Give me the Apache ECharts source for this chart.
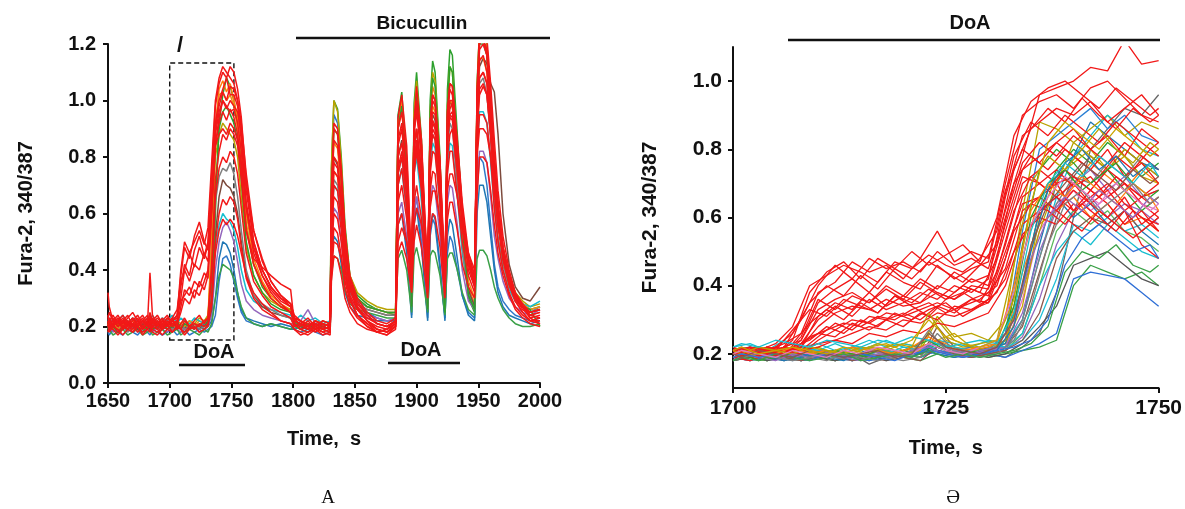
<!DOCTYPE html>
<html>
<head>
<meta charset="utf-8">
<script src="https://cdn.jsdelivr.net/npm/echarts@6/dist/echarts.min.js"></script>
<style>
  html, body { margin: 0; background: #fff; }
  #main { width: 1185px; height: 509px; }
</style>
</head>
<body>
<div id="main"></div>
<script>
var myChart = echarts.init(document.getElementById('main'));

// ---- panel A: time points (s)
var tA = [1650,1651,1654,1658,1662,1666,1670,1674,1678,1682,
  1684,1686,1690,1694,1698,1702,1706,1709,1712,1716,
  1720,1724,1728,1731,1734,1737,1740,1743,1746,1749,
  1752,1755,1758,1762,1768,1775,1782,1790,1798,1801,
  1806,1812,1818,1824,1830,1831,1833,1836,1839,1842,
  1846,1852,1860,1868,1876,1883,1885,1888,1892,1896,
  1898,1900,1904,1909,1911,1913,1915,1919,1923,1925,
  1927,1929,1933,1937,1942,1947,1949,1951,1954,1957,
  1960,1963,1966,1970,1975,1980,1986,1992,2000];

// panel A traces (340/387 ratio)
var aGreen1 = [0.21,0.20,0.19,0.21,0.20,0.22,0.19,0.21,0.20,0.19,
  0.21,0.20,0.22,0.19,0.21,0.20,0.19,0.21,0.20,0.22,
  0.21,0.20,0.22,0.21,0.26,0.60,0.92,1.02,1.08,1.05,
  1.00,0.92,0.78,0.56,0.42,0.34,0.30,0.27,0.26,0.22,
  0.21,0.20,0.22,0.21,0.20,0.76,1.00,0.97,0.80,0.56,
  0.38,0.31,0.28,0.26,0.25,0.24,0.95,1.03,0.78,0.28,
  0.99,1.10,0.86,0.25,1.00,1.14,1.10,0.80,0.24,1.04,
  1.18,1.16,0.88,0.60,0.30,0.25,1.06,1.25,1.25,1.20,
  1.00,0.76,0.62,0.46,0.36,0.30,0.28,0.26,0.27];
var aBlue1 = [0.18,0.17,0.19,0.18,0.17,0.19,0.18,0.17,0.19,0.18,
  0.17,0.19,0.18,0.17,0.18,0.19,0.17,0.18,0.19,0.17,
  0.18,0.19,0.18,0.19,0.20,0.24,0.36,0.44,0.45,0.42,
  0.36,0.30,0.25,0.22,0.21,0.20,0.21,0.20,0.19,0.19,
  0.18,0.19,0.18,0.17,0.18,0.70,0.95,0.92,0.74,0.50,
  0.34,0.28,0.25,0.23,0.22,0.22,0.94,1.00,0.70,0.24,
  0.60,0.66,0.50,0.23,0.52,0.58,0.56,0.40,0.23,0.46,
  0.52,0.50,0.40,0.31,0.25,0.23,0.68,0.80,0.78,0.70,
  0.56,0.42,0.34,0.29,0.26,0.24,0.23,0.22,0.23];
var aBlue2 = [0.20,0.19,0.21,0.20,0.19,0.20,0.21,0.19,0.20,0.21,
  0.19,0.20,0.21,0.19,0.20,0.21,0.19,0.20,0.21,0.19,
  0.20,0.19,0.21,0.20,0.22,0.30,0.44,0.50,0.49,0.46,
  0.40,0.32,0.26,0.23,0.22,0.21,0.20,0.21,0.20,0.19,
  0.20,0.19,0.21,0.20,0.19,0.42,0.52,0.50,0.42,0.32,
  0.27,0.24,0.23,0.22,0.22,0.22,0.56,0.60,0.46,0.23,
  0.56,0.62,0.48,0.22,0.54,0.60,0.58,0.42,0.22,0.52,
  0.58,0.56,0.44,0.31,0.24,0.22,0.60,0.70,0.70,0.64,
  0.52,0.40,0.32,0.27,0.24,0.23,0.22,0.21,0.22];
var aOrange1 = [0.20,0.21,0.19,0.20,0.22,0.20,0.19,0.21,0.20,0.22,
  0.20,0.19,0.21,0.20,0.22,0.19,0.21,0.20,0.19,0.21,
  0.20,0.22,0.21,0.22,0.48,0.90,1.04,1.07,1.03,1.06,
  1.00,0.94,0.82,0.60,0.44,0.36,0.31,0.28,0.26,0.21,
  0.20,0.21,0.19,0.20,0.21,0.58,0.75,0.73,0.60,0.44,
  0.34,0.29,0.27,0.26,0.25,0.25,0.90,0.97,0.74,0.30,
  0.90,1.00,0.80,0.28,0.92,1.05,1.02,0.74,0.27,0.90,
  1.00,0.98,0.76,0.52,0.34,0.28,1.02,1.22,1.22,1.16,
  0.98,0.76,0.60,0.46,0.36,0.30,0.27,0.25,0.26];
var aOrange2 = [0.21,0.20,0.22,0.19,0.21,0.20,0.22,0.21,0.19,0.21,
  0.20,0.22,0.21,0.19,0.21,0.20,0.22,0.21,0.20,0.22,
  0.21,0.20,0.22,0.23,0.52,0.92,1.02,1.03,1.00,1.02,
  0.98,0.90,0.76,0.56,0.42,0.35,0.30,0.27,0.25,0.22,
  0.21,0.20,0.22,0.21,0.20,0.64,0.85,0.83,0.68,0.48,
  0.35,0.30,0.27,0.26,0.25,0.25,0.92,1.00,0.78,0.32,
  0.94,1.04,0.82,0.30,0.86,0.98,0.96,0.70,0.30,0.88,
  1.00,0.99,0.76,0.54,0.36,0.30,0.96,1.15,1.15,1.10,
  0.92,0.72,0.56,0.44,0.35,0.30,0.28,0.26,0.27];
var aOlive = [0.21,0.22,0.20,0.21,0.19,0.21,0.22,0.20,0.21,0.19,
  0.22,0.20,0.21,0.22,0.20,0.21,0.19,0.21,0.22,0.20,
  0.21,0.23,0.22,0.24,0.42,0.80,0.88,0.92,0.90,0.88,
  0.86,0.80,0.66,0.48,0.38,0.32,0.29,0.27,0.26,0.23,
  0.22,0.21,0.20,0.22,0.21,0.76,1.00,0.96,0.78,0.54,
  0.38,0.32,0.29,0.27,0.26,0.26,0.93,1.00,0.76,0.28,
  0.96,1.07,0.84,0.27,0.96,1.10,1.07,0.78,0.26,0.98,
  1.12,1.10,0.84,0.56,0.32,0.27,1.04,1.25,1.25,1.20,
  1.00,0.78,0.62,0.48,0.38,0.32,0.29,0.27,0.28];
var aCyan = [0.22,0.23,0.21,0.22,0.24,0.21,0.23,0.22,0.21,0.23,
  0.22,0.24,0.21,0.23,0.22,0.24,0.21,0.23,0.22,0.21,
  0.23,0.22,0.21,0.23,0.30,0.48,0.56,0.60,0.58,0.57,
  0.54,0.48,0.40,0.33,0.29,0.27,0.26,0.25,0.24,0.22,
  0.24,0.22,0.23,0.21,0.22,0.54,0.70,0.68,0.56,0.42,
  0.33,0.29,0.27,0.26,0.25,0.25,0.70,0.76,0.60,0.29,
  0.74,0.80,0.64,0.27,0.76,0.85,0.83,0.62,0.27,0.76,
  0.85,0.84,0.66,0.46,0.32,0.27,0.82,0.96,0.96,0.92,
  0.78,0.62,0.50,0.40,0.33,0.29,0.28,0.27,0.29];
var aPurple = [0.19,0.20,0.18,0.19,0.21,0.19,0.20,0.18,0.19,0.20,
  0.19,0.18,0.20,0.19,0.18,0.20,0.19,0.18,0.20,0.19,
  0.20,0.18,0.19,0.20,0.24,0.40,0.50,0.55,0.57,0.54,
  0.50,0.43,0.35,0.29,0.26,0.24,0.23,0.22,0.21,0.20,
  0.22,0.26,0.21,0.20,0.19,0.48,0.62,0.60,0.50,0.38,
  0.30,0.26,0.24,0.23,0.22,0.23,0.60,0.64,0.52,0.27,
  0.60,0.66,0.54,0.26,0.64,0.70,0.68,0.52,0.25,0.64,
  0.70,0.69,0.56,0.40,0.29,0.26,0.72,0.82,0.82,0.78,
  0.66,0.52,0.44,0.36,0.30,0.27,0.25,0.24,0.26];
var aGreen2 = [0.18,0.19,0.17,0.18,0.19,0.17,0.18,0.19,0.17,0.18,
  0.19,0.17,0.18,0.19,0.17,0.18,0.19,0.17,0.18,0.19,
  0.18,0.17,0.19,0.18,0.21,0.30,0.38,0.42,0.41,0.40,
  0.37,0.32,0.27,0.23,0.21,0.20,0.21,0.20,0.19,0.20,
  0.19,0.18,0.20,0.19,0.18,0.38,0.45,0.44,0.40,0.33,
  0.28,0.26,0.25,0.24,0.23,0.23,0.44,0.47,0.40,0.25,
  0.45,0.48,0.40,0.25,0.45,0.47,0.46,0.38,0.24,0.44,
  0.46,0.46,0.40,0.32,0.26,0.24,0.44,0.47,0.47,0.45,
  0.40,0.34,0.30,0.26,0.23,0.21,0.20,0.20,0.21];
var aGreen3 = [0.19,0.21,0.20,0.18,0.20,0.19,0.21,0.20,0.18,0.20,
  0.21,0.19,0.20,0.21,0.19,0.20,0.22,0.19,0.21,0.20,
  0.19,0.21,0.20,0.22,0.30,0.66,0.90,0.96,0.98,0.95,
  0.92,0.86,0.72,0.50,0.38,0.32,0.28,0.26,0.25,0.22,
  0.20,0.21,0.19,0.20,0.21,0.68,0.90,0.88,0.72,0.50,
  0.35,0.30,0.27,0.26,0.25,0.25,0.90,0.98,0.74,0.27,
  0.92,1.02,0.80,0.26,0.96,1.08,1.05,0.76,0.25,0.98,
  1.12,1.10,0.84,0.56,0.31,0.26,1.00,1.20,1.20,1.16,
  0.94,0.72,0.58,0.44,0.35,0.30,0.27,0.26,0.20];
var aBrown = [0.20,0.19,0.21,0.20,0.19,0.21,0.20,0.19,0.21,0.20,
  0.19,0.21,0.20,0.19,0.21,0.20,0.19,0.21,0.20,0.19,
  0.21,0.20,0.19,0.21,0.26,0.52,0.66,0.72,0.70,0.69,
  0.66,0.60,0.50,0.38,0.31,0.27,0.25,0.24,0.23,0.21,
  0.20,0.19,0.21,0.20,0.19,0.60,0.80,0.77,0.62,0.44,
  0.32,0.28,0.26,0.25,0.24,0.24,0.80,0.86,0.66,0.28,
  0.82,0.90,0.70,0.27,0.86,0.95,0.93,0.66,0.27,0.90,
  1.00,0.98,0.76,0.52,0.33,0.27,0.96,1.12,1.15,1.13,
  1.06,1.03,0.88,0.60,0.42,0.34,0.30,0.29,0.34];
var aGray = [0.19,0.20,0.21,0.19,0.20,0.18,0.20,0.21,0.19,0.20,
  0.20,0.21,0.19,0.20,0.21,0.19,0.20,0.21,0.19,0.20,
  0.21,0.19,0.20,0.22,0.34,0.64,0.73,0.76,0.75,0.78,
  0.74,0.66,0.54,0.40,0.31,0.28,0.26,0.24,0.23,0.20,
  0.21,0.20,0.19,0.21,0.20,0.54,0.72,0.70,0.58,0.42,
  0.32,0.28,0.26,0.25,0.24,0.24,0.74,0.80,0.62,0.27,
  0.78,0.85,0.68,0.26,0.80,0.88,0.86,0.64,0.26,0.82,
  0.92,0.90,0.70,0.48,0.31,0.26,0.92,1.06,1.08,1.02,
  0.86,0.66,0.52,0.42,0.34,0.29,0.27,0.25,0.27];
var aRed1 = [0.24,0.22,0.21,0.23,0.20,0.22,0.21,0.23,0.20,0.22,
  0.24,0.21,0.22,0.20,0.23,0.21,0.22,0.34,0.42,0.38,
  0.47,0.52,0.45,0.50,0.74,0.98,1.06,1.10,1.08,1.12,
  1.10,1.04,0.94,0.72,0.50,0.40,0.34,0.30,0.27,0.22,
  0.21,0.19,0.22,0.20,0.21,0.66,0.86,0.84,0.72,0.52,
  0.38,0.30,0.25,0.22,0.21,0.23,0.94,1.02,0.84,0.40,
  0.92,1.05,0.86,0.36,0.92,1.02,1.00,0.78,0.36,0.94,
  1.04,1.02,0.84,0.62,0.42,0.34,1.02,1.20,1.22,1.18,
  1.02,0.80,0.64,0.48,0.38,0.31,0.27,0.25,0.26];
var aRed2 = [0.20,0.19,0.21,0.18,0.20,0.19,0.21,0.18,0.20,0.19,
  0.21,0.19,0.18,0.20,0.19,0.21,0.20,0.27,0.33,0.31,
  0.36,0.34,0.39,0.37,0.60,0.84,0.92,0.96,0.93,0.97,
  0.94,0.88,0.76,0.54,0.44,0.41,0.38,0.35,0.33,0.21,
  0.19,0.18,0.20,0.19,0.18,0.52,0.70,0.68,0.58,0.42,
  0.31,0.26,0.22,0.19,0.18,0.21,0.76,0.82,0.66,0.36,
  0.82,0.90,0.74,0.35,0.84,0.93,0.91,0.70,0.36,0.88,
  0.97,0.99,0.80,0.60,0.42,0.36,0.94,1.08,1.10,1.06,
  0.92,0.74,0.58,0.44,0.35,0.29,0.25,0.22,0.23];
var aRed3 = [0.22,0.21,0.20,0.22,0.19,0.21,0.20,0.22,0.19,0.21,
  0.20,0.22,0.19,0.21,0.20,0.22,0.23,0.38,0.48,0.44,
  0.52,0.57,0.50,0.47,0.68,0.90,0.98,1.03,1.00,1.05,
  1.04,1.00,0.90,0.68,0.50,0.40,0.34,0.30,0.28,0.24,
  0.22,0.20,0.21,0.19,0.20,0.45,0.60,0.58,0.50,0.38,
  0.30,0.24,0.21,0.18,0.19,0.22,0.64,0.70,0.58,0.38,
  0.74,0.82,0.68,0.37,0.80,0.88,0.86,0.66,0.36,0.86,
  0.95,0.96,0.78,0.58,0.42,0.36,0.98,1.14,1.16,1.10,
  0.94,0.74,0.58,0.45,0.36,0.30,0.27,0.23,0.24];
var aRed4 = [0.32,0.27,0.22,0.20,0.22,0.19,0.21,0.20,0.22,0.21,
  0.39,0.24,0.21,0.19,0.22,0.20,0.21,0.19,0.22,0.20,
  0.21,0.20,0.22,0.23,0.38,0.66,0.76,0.80,0.78,0.82,
  0.80,0.74,0.62,0.46,0.36,0.31,0.27,0.25,0.23,0.20,
  0.21,0.19,0.20,0.18,0.19,0.42,0.55,0.53,0.45,0.34,
  0.27,0.23,0.20,0.18,0.17,0.20,0.56,0.60,0.50,0.33,
  0.64,0.70,0.58,0.32,0.68,0.75,0.74,0.56,0.32,0.74,
  0.82,0.82,0.66,0.50,0.38,0.32,0.82,0.95,0.95,0.92,
  0.80,0.62,0.50,0.40,0.32,0.27,0.24,0.22,0.21];
var aRed5 = [0.19,0.18,0.20,0.19,0.17,0.19,0.18,0.20,0.18,0.19,
  0.18,0.20,0.19,0.17,0.19,0.18,0.20,0.19,0.18,0.20,
  0.19,0.21,0.20,0.21,0.30,0.50,0.60,0.65,0.63,0.66,
  0.64,0.58,0.48,0.37,0.30,0.26,0.24,0.22,0.21,0.19,
  0.18,0.17,0.19,0.18,0.17,0.66,0.90,0.88,0.74,0.52,
  0.36,0.27,0.22,0.19,0.18,0.20,0.90,0.96,0.80,0.40,
  0.92,1.00,0.84,0.38,0.92,1.00,0.98,0.78,0.38,0.96,
  1.06,1.05,0.86,0.64,0.46,0.38,1.04,1.25,1.25,1.22,
  1.06,0.86,0.68,0.52,0.40,0.32,0.27,0.23,0.21];
var aRed6 = [0.23,0.25,0.22,0.24,0.21,0.23,0.25,0.22,0.24,0.21,
  0.25,0.22,0.24,0.21,0.23,0.22,0.24,0.29,0.31,0.34,
  0.30,0.36,0.33,0.38,0.64,0.92,1.00,1.04,1.08,1.02,
  1.02,0.98,0.86,0.64,0.48,0.38,0.32,0.28,0.25,0.22,
  0.21,0.23,0.20,0.22,0.21,0.58,0.78,0.76,0.64,0.46,
  0.33,0.26,0.22,0.20,0.19,0.21,0.86,0.92,0.74,0.38,
  0.88,0.96,0.80,0.36,0.88,0.96,0.95,0.74,0.36,0.90,
  1.00,1.00,0.82,0.60,0.44,0.36,1.00,1.18,1.20,1.16,
  1.00,0.80,0.62,0.48,0.38,0.31,0.27,0.24,0.25];
var aRed7 = [0.21,0.19,0.23,0.20,0.22,0.24,0.20,0.22,0.19,0.21,
  0.23,0.20,0.22,0.19,0.21,0.23,0.19,0.21,0.23,0.20,
  0.22,0.24,0.21,0.23,0.42,0.72,0.82,0.88,0.86,0.90,
  0.88,0.84,0.72,0.54,0.42,0.35,0.30,0.27,0.25,0.21,
  0.19,0.20,0.18,0.20,0.19,0.52,0.66,0.64,0.54,0.40,
  0.30,0.24,0.20,0.18,0.19,0.21,0.70,0.76,0.62,0.36,
  0.76,0.84,0.70,0.34,0.74,0.82,0.81,0.64,0.34,0.80,
  0.88,0.90,0.74,0.56,0.40,0.34,0.90,1.04,1.06,1.02,
  0.88,0.70,0.56,0.44,0.35,0.29,0.25,0.22,0.22];
var aRed8 = [0.20,0.22,0.24,0.21,0.23,0.20,0.22,0.24,0.21,0.23,
  0.21,0.23,0.20,0.22,0.24,0.21,0.22,0.30,0.40,0.36,
  0.42,0.40,0.46,0.43,0.62,0.84,0.94,1.00,0.97,1.00,
  0.98,0.96,0.88,0.70,0.54,0.44,0.36,0.31,0.28,0.23,
  0.20,0.22,0.19,0.21,0.20,0.38,0.50,0.49,0.44,0.36,
  0.29,0.24,0.21,0.19,0.18,0.20,0.50,0.55,0.50,0.40,
  0.56,0.62,0.56,0.40,0.62,0.68,0.68,0.58,0.40,0.68,
  0.74,0.74,0.66,0.54,0.44,0.38,0.80,0.90,0.90,0.88,
  0.80,0.68,0.56,0.46,0.38,0.32,0.28,0.25,0.26];
var aRed9 = [0.18,0.20,0.19,0.17,0.19,0.21,0.18,0.20,0.17,0.19,
  0.20,0.18,0.17,0.19,0.21,0.18,0.20,0.19,0.17,0.19,
  0.20,0.18,0.19,0.20,0.28,0.46,0.54,0.58,0.56,0.58,
  0.56,0.52,0.46,0.38,0.32,0.28,0.25,0.22,0.21,0.19,
  0.17,0.18,0.19,0.17,0.18,0.36,0.45,0.44,0.38,0.30,
  0.25,0.21,0.19,0.18,0.17,0.19,0.46,0.50,0.44,0.32,
  0.50,0.56,0.48,0.30,0.54,0.60,0.59,0.48,0.30,0.58,
  0.64,0.64,0.54,0.42,0.34,0.30,0.66,0.80,0.80,0.78,
  0.68,0.56,0.46,0.38,0.31,0.26,0.23,0.21,0.20];
var aRed10 = [0.21,0.23,0.20,0.22,0.24,0.21,0.23,0.20,0.22,0.24,
  0.21,0.23,0.20,0.22,0.21,0.23,0.26,0.36,0.40,0.46,
  0.41,0.48,0.44,0.49,0.66,0.84,0.88,0.90,0.88,0.92,
  0.90,0.86,0.78,0.62,0.48,0.40,0.34,0.30,0.27,0.22,
  0.21,0.20,0.22,0.21,0.20,0.56,0.75,0.73,0.62,0.46,
  0.34,0.27,0.23,0.21,0.20,0.22,0.80,0.85,0.70,0.40,
  0.84,0.90,0.76,0.38,0.84,0.92,0.90,0.72,0.38,0.88,
  0.95,0.94,0.78,0.60,0.44,0.38,0.92,1.08,1.10,1.06,
  0.90,0.72,0.58,0.46,0.36,0.30,0.26,0.24,0.25];
var aRed11 = [0.22,0.20,0.21,0.23,0.20,0.22,0.19,0.21,0.23,0.20,
  0.22,0.20,0.21,0.23,0.20,0.22,0.21,0.25,0.30,0.28,
  0.33,0.31,0.36,0.40,0.62,0.88,0.96,1.00,0.98,0.96,
  0.97,0.92,0.82,0.62,0.46,0.38,0.33,0.29,0.27,0.23,
  0.22,0.20,0.21,0.19,0.20,0.68,0.92,0.90,0.76,0.54,
  0.37,0.29,0.24,0.21,0.20,0.22,0.84,0.90,0.72,0.37,
  0.90,0.98,0.80,0.35,0.92,1.02,1.00,0.76,0.35,0.96,
  1.06,1.05,0.84,0.62,0.43,0.35,1.00,1.20,1.22,1.16,
  0.98,0.78,0.62,0.48,0.38,0.31,0.27,0.24,0.23];
var aRed12 = [0.23,0.21,0.22,0.20,0.22,0.21,0.23,0.21,0.22,0.20,
  0.22,0.21,0.23,0.21,0.20,0.22,0.24,0.40,0.50,0.46,
  0.50,0.54,0.49,0.55,0.78,1.00,1.08,1.12,1.10,1.08,
  1.06,1.00,0.92,0.74,0.54,0.43,0.36,0.31,0.28,0.23,
  0.22,0.21,0.20,0.22,0.21,0.60,0.80,0.78,0.66,0.48,
  0.35,0.28,0.24,0.21,0.20,0.22,0.74,0.80,0.68,0.42,
  0.78,0.86,0.74,0.40,0.82,0.90,0.88,0.70,0.40,0.86,
  0.94,0.93,0.78,0.60,0.46,0.40,0.88,1.02,1.05,1.02,
  0.88,0.70,0.56,0.46,0.37,0.31,0.27,0.25,0.26];

// ---- panel B: two interleaved sampling grids (s)
var tB = [1700,1702,1704,1706,1708,1710,1712,1714,1716,1718,
  1720,1722,1724,1726,1728,1730,1732,1734,1736,1738,
  1740,1742,1744,1746,1748,1750];
var tB2 = [1700,1701,1703,1705,1707,1709,1711,1713,1715,1717,
  1719,1721,1723,1725,1727,1729,1731,1733,1735,1737,
  1739,1741,1743,1745,1747,1749,1750];

var bGreen1 = [0.19,0.20,0.18,0.20,0.19,0.21,0.20,0.19,0.21,0.20,0.20,0.22,0.21,0.20,0.21,0.20,0.24,0.40,0.62,0.74,0.80,0.76,0.82,0.78,0.72,0.76];
var bBlue1 = [0.18,0.19,0.20,0.18,0.19,0.20,0.19,0.18,0.20,0.19,0.20,0.19,0.21,0.20,0.19,0.21,0.22,0.30,0.52,0.70,0.78,0.88,0.84,0.80,0.76,0.74];
var bOrange1 = [0.20,0.21,0.19,0.21,0.20,0.19,0.21,0.20,0.22,0.21,0.20,0.21,0.23,0.21,0.22,0.21,0.26,0.48,0.66,0.72,0.70,0.76,0.72,0.68,0.74,0.70];
var bOlive1 = [0.21,0.20,0.22,0.20,0.21,0.22,0.20,0.21,0.22,0.21,0.23,0.22,0.31,0.25,0.26,0.24,0.30,0.62,0.88,0.86,0.82,0.86,0.90,0.84,0.88,0.86];
var bCyan1 = [0.22,0.23,0.21,0.24,0.22,0.23,0.21,0.22,0.24,0.22,0.23,0.22,0.24,0.23,0.22,0.24,0.23,0.30,0.48,0.66,0.78,0.84,0.90,0.86,0.80,0.78];
var bPurple1 = [0.19,0.18,0.20,0.19,0.18,0.20,0.19,0.18,0.19,0.20,0.19,0.20,0.21,0.20,0.19,0.20,0.21,0.25,0.36,0.52,0.62,0.66,0.60,0.64,0.62,0.58];
var bBrown1 = [0.20,0.19,0.18,0.20,0.19,0.20,0.18,0.20,0.19,0.18,0.20,0.19,0.28,0.22,0.20,0.21,0.22,0.28,0.44,0.60,0.72,0.78,0.74,0.80,0.76,0.72];
var bGray1 = [0.19,0.20,0.19,0.18,0.20,0.19,0.18,0.20,0.17,0.19,0.20,0.19,0.22,0.20,0.19,0.20,0.19,0.22,0.26,0.38,0.60,0.80,0.86,0.92,0.90,0.96];
var bGreen2 = [0.18,0.19,0.18,0.19,0.18,0.19,0.18,0.19,0.18,0.20,0.19,0.18,0.20,0.19,0.20,0.19,0.20,0.21,0.22,0.24,0.40,0.46,0.44,0.42,0.44,0.40];
var bBlue2 = [0.19,0.18,0.19,0.20,0.18,0.19,0.20,0.19,0.18,0.19,0.20,0.19,0.21,0.20,0.19,0.20,0.19,0.21,0.23,0.26,0.42,0.44,0.43,0.42,0.38,0.34];
var bPink = [0.20,0.21,0.20,0.19,0.21,0.20,0.21,0.19,0.20,0.21,0.20,0.21,0.22,0.21,0.20,0.21,0.22,0.36,0.56,0.64,0.68,0.62,0.66,0.70,0.64,0.62];
var bGray2 = [0.19,0.20,0.18,0.19,0.20,0.19,0.18,0.19,0.20,0.18,0.19,0.20,0.24,0.21,0.20,0.19,0.20,0.23,0.28,0.34,0.46,0.48,0.50,0.46,0.42,0.40];
var bBlue3 = [0.20,0.19,0.21,0.20,0.19,0.21,0.20,0.22,0.20,0.21,0.20,0.22,0.23,0.21,0.22,0.21,0.26,0.56,0.80,0.84,0.88,0.92,0.86,0.90,0.84,0.82];
var bGreen3 = [0.19,0.20,0.19,0.21,0.20,0.19,0.21,0.20,0.19,0.21,0.20,0.19,0.22,0.20,0.21,0.20,0.21,0.26,0.40,0.56,0.62,0.58,0.62,0.56,0.54,0.50];
var bOlive2 = [0.20,0.19,0.21,0.20,0.22,0.20,0.21,0.20,0.22,0.23,0.21,0.22,0.24,0.26,0.22,0.21,0.23,0.34,0.60,0.72,0.76,0.80,0.74,0.78,0.72,0.70];
var bCyan2 = [0.21,0.22,0.20,0.21,0.22,0.21,0.20,0.22,0.21,0.20,0.22,0.21,0.22,0.20,0.21,0.22,0.22,0.24,0.30,0.42,0.58,0.56,0.60,0.56,0.58,0.54];
var bGreen4 = [0.20,0.19,0.21,0.20,0.19,0.20,0.21,0.20,0.19,0.20,0.21,0.20,0.23,0.21,0.20,0.22,0.24,0.52,0.74,0.80,0.76,0.70,0.74,0.68,0.62,0.66];
var bBlue4 = [0.19,0.20,0.19,0.18,0.20,0.19,0.20,0.18,0.19,0.20,0.19,0.21,0.20,0.19,0.20,0.21,0.23,0.40,0.62,0.66,0.60,0.64,0.58,0.62,0.56,0.52];
var bOrange2 = [0.21,0.20,0.19,0.21,0.20,0.21,0.20,0.22,0.21,0.20,0.21,0.22,0.24,0.22,0.21,0.22,0.24,0.44,0.58,0.62,0.66,0.60,0.64,0.58,0.60,0.56];
var bPurple2 = [0.20,0.19,0.21,0.20,0.19,0.21,0.20,0.19,0.21,0.20,0.19,0.21,0.23,0.21,0.20,0.21,0.22,0.32,0.50,0.62,0.70,0.74,0.68,0.72,0.66,0.68];
var bCyan3 = [0.21,0.22,0.21,0.20,0.22,0.21,0.23,0.21,0.22,0.24,0.22,0.21,0.23,0.22,0.21,0.23,0.22,0.26,0.40,0.50,0.56,0.52,0.58,0.54,0.50,0.48];
var bOlive3 = [0.20,0.21,0.19,0.20,0.21,0.20,0.19,0.21,0.20,0.22,0.20,0.21,0.30,0.24,0.22,0.21,0.24,0.38,0.56,0.70,0.82,0.78,0.74,0.80,0.76,0.72];
var bGray3 = [0.19,0.18,0.20,0.19,0.18,0.20,0.19,0.18,0.20,0.19,0.18,0.19,0.26,0.21,0.19,0.20,0.21,0.30,0.48,0.64,0.72,0.70,0.76,0.72,0.78,0.74];
var bBrown2 = [0.18,0.19,0.20,0.19,0.18,0.19,0.20,0.18,0.19,0.20,0.19,0.18,0.22,0.20,0.19,0.20,0.21,0.24,0.32,0.48,0.56,0.60,0.58,0.62,0.56,0.60];
var bRed1 = [0.21,0.22,0.20,0.22,0.30,0.40,0.46,0.42,0.48,0.45,0.47,0.44,0.50,0.46,0.48,0.45,0.62,0.78,0.96,0.98,1.00,1.04,1.03,1.12,1.05,1.06];
var bRed2 = [0.22,0.20,0.21,0.23,0.26,0.38,0.41,0.47,0.44,0.46,0.42,0.48,0.56,0.47,0.50,0.48,0.70,0.90,0.94,0.96,0.92,0.98,1.00,0.95,0.90,0.88];
var bRed3 = [0.20,0.21,0.19,0.22,0.24,0.33,0.36,0.38,0.35,0.40,0.37,0.42,0.39,0.44,0.41,0.43,0.60,0.76,0.82,0.78,0.84,0.80,0.76,0.82,0.78,0.74];
var bRed4 = [0.19,0.20,0.21,0.20,0.22,0.28,0.32,0.34,0.33,0.36,0.34,0.35,0.38,0.36,0.39,0.37,0.52,0.70,0.74,0.70,0.72,0.68,0.74,0.70,0.66,0.70];
var bRed5 = [0.21,0.19,0.20,0.21,0.20,0.24,0.27,0.30,0.29,0.32,0.31,0.33,0.35,0.33,0.36,0.35,0.48,0.66,0.70,0.74,0.69,0.72,0.66,0.70,0.64,0.60];
var bRed6 = [0.20,0.22,0.21,0.19,0.23,0.26,0.25,0.29,0.27,0.30,0.32,0.30,0.34,0.32,0.36,0.38,0.45,0.62,0.66,0.70,0.62,0.66,0.70,0.64,0.60,0.58];
var bRed7 = [0.18,0.20,0.19,0.21,0.22,0.31,0.35,0.33,0.38,0.34,0.37,0.35,0.40,0.38,0.42,0.40,0.58,0.74,0.78,0.82,0.86,0.80,0.84,0.78,0.86,0.82];
var bRed8 = [0.19,0.18,0.20,0.19,0.21,0.23,0.24,0.26,0.28,0.27,0.30,0.29,0.32,0.31,0.33,0.35,0.42,0.58,0.62,0.66,0.70,0.64,0.68,0.62,0.66,0.68];
var bRed9 = [0.21,0.20,0.22,0.21,0.23,0.30,0.34,0.31,0.36,0.33,0.35,0.38,0.36,0.40,0.38,0.42,0.66,0.84,0.88,0.92,0.90,0.94,0.88,0.92,0.96,0.90];
var bRed10 = [0.20,0.21,0.20,0.22,0.21,0.25,0.29,0.27,0.31,0.30,0.28,0.32,0.30,0.34,0.33,0.36,0.50,0.64,0.66,0.62,0.68,0.64,0.60,0.66,0.58,0.62];
var bRed11 = [0.19,0.20,0.22,0.20,0.24,0.35,0.39,0.42,0.38,0.44,0.41,0.39,0.46,0.42,0.45,0.47,0.68,0.80,0.76,0.82,0.78,0.74,0.80,0.72,0.76,0.70];
var bRed12 = [0.21,0.19,0.20,0.22,0.21,0.22,0.24,0.23,0.26,0.25,0.27,0.26,0.29,0.28,0.30,0.32,0.40,0.55,0.60,0.58,0.64,0.60,0.56,0.62,0.52,0.48];
var bRed13 = [0.20,0.22,0.21,0.20,0.25,0.36,0.33,0.37,0.35,0.39,0.36,0.41,0.38,0.36,0.40,0.39,0.56,0.72,0.70,0.66,0.62,0.68,0.64,0.58,0.62,0.56];

// panel B traces on the second grid (tB2)
var cRed1 = [0.20,0.21,0.19,0.22,0.26,0.35,0.40,0.37,0.43,0.39,0.45,0.42,0.47,0.44,0.41,0.46,0.52,0.74,0.86,0.92,0.88,0.95,0.90,0.86,0.92,0.88,0.90];
var cRed2 = [0.21,0.20,0.22,0.21,0.23,0.29,0.33,0.30,0.35,0.32,0.37,0.34,0.31,0.36,0.38,0.35,0.44,0.62,0.72,0.68,0.74,0.70,0.66,0.72,0.68,0.64,0.66];
var cRed3 = [0.19,0.20,0.21,0.20,0.24,0.38,0.44,0.47,0.42,0.48,0.45,0.50,0.46,0.49,0.52,0.47,0.60,0.84,0.94,0.98,1.00,0.96,0.92,0.98,0.94,0.90,0.92];
var cRed4 = [0.20,0.19,0.21,0.22,0.21,0.25,0.27,0.29,0.28,0.31,0.30,0.33,0.35,0.32,0.34,0.36,0.40,0.56,0.64,0.62,0.58,0.64,0.60,0.56,0.62,0.58,0.56];
var cRed5 = [0.21,0.22,0.20,0.21,0.27,0.33,0.31,0.36,0.34,0.32,0.37,0.35,0.39,0.36,0.40,0.38,0.48,0.70,0.78,0.74,0.80,0.76,0.72,0.78,0.74,0.80,0.78];
var cRed6 = [0.20,0.21,0.22,0.20,0.22,0.24,0.28,0.26,0.30,0.28,0.32,0.30,0.33,0.35,0.31,0.34,0.38,0.50,0.58,0.64,0.60,0.56,0.62,0.58,0.54,0.58,0.60];
var cRed7 = [0.22,0.20,0.21,0.23,0.28,0.40,0.43,0.46,0.44,0.41,0.47,0.45,0.49,0.46,0.44,0.48,0.56,0.78,0.88,0.84,0.90,0.86,0.82,0.88,0.84,0.80,0.82];
var cGreen1 = [0.19,0.20,0.18,0.19,0.20,0.19,0.21,0.20,0.19,0.21,0.20,0.22,0.24,0.21,0.20,0.21,0.22,0.34,0.60,0.70,0.74,0.68,0.72,0.76,0.70,0.66,0.68];
var cBlue1 = [0.18,0.19,0.20,0.19,0.18,0.20,0.19,0.18,0.20,0.19,0.20,0.19,0.22,0.20,0.19,0.20,0.21,0.28,0.50,0.68,0.76,0.80,0.74,0.78,0.72,0.76,0.74];
var cOrange1 = [0.20,0.21,0.19,0.20,0.22,0.20,0.21,0.20,0.22,0.21,0.20,0.22,0.25,0.22,0.21,0.22,0.23,0.40,0.62,0.70,0.66,0.72,0.68,0.64,0.70,0.66,0.62];
var cOlive1 = [0.21,0.20,0.22,0.21,0.20,0.22,0.21,0.20,0.22,0.21,0.23,0.22,0.32,0.24,0.22,0.23,0.24,0.46,0.70,0.78,0.74,0.80,0.86,0.80,0.76,0.82,0.80];
var cCyan1 = [0.22,0.23,0.22,0.24,0.23,0.22,0.24,0.23,0.22,0.24,0.23,0.25,0.24,0.22,0.23,0.24,0.23,0.32,0.56,0.70,0.76,0.72,0.78,0.74,0.70,0.76,0.72];
var cPurple1 = [0.19,0.20,0.19,0.18,0.20,0.19,0.20,0.19,0.18,0.20,0.19,0.21,0.22,0.20,0.19,0.21,0.22,0.30,0.48,0.60,0.66,0.62,0.68,0.64,0.60,0.66,0.64];
var cGray1 = [0.18,0.19,0.20,0.19,0.18,0.19,0.18,0.20,0.19,0.18,0.19,0.20,0.27,0.21,0.20,0.19,0.20,0.24,0.34,0.52,0.64,0.68,0.62,0.66,0.70,0.64,0.66];
var cBlue2 = [0.19,0.20,0.19,0.20,0.19,0.18,0.20,0.19,0.20,0.19,0.18,0.20,0.21,0.20,0.19,0.20,0.21,0.22,0.24,0.30,0.46,0.54,0.58,0.54,0.50,0.52,0.48];
var cGreen2 = [0.18,0.19,0.18,0.20,0.19,0.18,0.19,0.20,0.18,0.19,0.20,0.19,0.21,0.19,0.20,0.19,0.20,0.21,0.23,0.28,0.44,0.50,0.48,0.52,0.46,0.44,0.46];
var cPink = [0.20,0.21,0.20,0.19,0.21,0.20,0.19,0.21,0.20,0.22,0.21,0.20,0.23,0.21,0.20,0.22,0.24,0.38,0.58,0.66,0.72,0.68,0.64,0.70,0.66,0.62,0.64];
var cBrown = [0.20,0.19,0.21,0.20,0.19,0.21,0.20,0.19,0.20,0.21,0.19,0.20,0.26,0.22,0.21,0.20,0.22,0.30,0.52,0.64,0.70,0.76,0.72,0.68,0.74,0.70,0.72];
var cOlive2 = [0.21,0.22,0.20,0.21,0.22,0.21,0.20,0.22,0.21,0.23,0.22,0.24,0.30,0.25,0.23,0.22,0.24,0.36,0.64,0.82,0.88,0.84,0.80,0.86,0.82,0.78,0.80];

// tick labels
var xTicksB = [1700, 1725, 1750];
var yTicksB = [0.2, 0.4, 0.6, 0.8, 1.0];

// 颜色
var RED = '#f21818';
var FONT = 'Liberation Sans, Arial, sans-serif';

var listA = [
  [aGreen1, '#2ca02c'], [aBlue1, '#2f78c8'], [aBlue2, '#1f77b4'], [aOrange1, '#ff7f0e'],
  [aOlive, '#b8a200'], [aCyan, '#17becf'], [aPurple, '#9467bd'], [aGreen2, '#3aa047'],
  [aBrown, '#7d4a3c'], [aGray, '#7f7f7f'], [aOrange2, '#f28a12'], [aGreen3, '#2ca02c'],
  [aRed9, RED], [aRed4, RED], [aRed5, RED], [aRed7, RED], [aRed6, RED], [aRed10, RED],
  [aRed8, RED], [aRed2, RED], [aRed11, RED], [aRed3, RED], [aRed12, RED], [aRed1, RED]
];
var listB = [
  [bGreen1, '#2ca02c'], [bBlue1, '#1f77b4'], [bOrange1, '#ff7f0e'], [bOlive1, '#b8a200'],
  [bCyan1, '#17becf'], [bPurple1, '#9467bd'], [bBrown1, '#8c564b'], [bGray1, '#666666'],
  [bGreen2, '#3aa047'], [bBlue2, '#2f6fd6'], [bPink, '#e377c2'], [bGray2, '#555555'],
  [bBlue3, '#2a7fd4'], [bGreen3, '#5cb85c'], [bOlive2, '#c9a400'], [bCyan2, '#20c0d8'],
  [bGreen4, '#2ca02c'], [bBlue4, '#1f77b4'], [bOrange2, '#ff7f0e'], [bPurple2, '#9467bd'],
  [bCyan3, '#17becf'], [bOlive3, '#b8a200'], [bGray3, '#7f7f7f'], [bBrown2, '#8c564b']
];
var listB2 = [
  [cGreen1, '#2ca02c'], [cBlue1, '#1f77b4'], [cOrange1, '#ff7f0e'], [cOlive1, '#b8a200'],
  [cCyan1, '#17becf'], [cPurple1, '#9467bd'], [cGray1, '#7f7f7f'], [cBlue2, '#2f6fd6'],
  [cGreen2, '#3aa047'], [cPink, '#e377c2'], [cBrown, '#8c564b'], [cOlive2, '#c9a400']
];
var listBRed = [
  [bRed12, tB], [cRed4, tB2], [bRed8, tB], [cRed6, tB2], [bRed10, tB], [bRed6, tB],
  [cRed2, tB2], [bRed5, tB], [bRed4, tB], [cRed5, tB2], [bRed13, tB], [bRed3, tB],
  [cRed7, tB2], [bRed11, tB], [cRed1, tB2], [bRed7, tB], [cRed3, tB2], [bRed9, tB],
  [bRed2, tB], [bRed1, tB]
];

function makeSeries(t, vals, color, idx, width) {
  return {
    type: 'line',
    xAxisIndex: idx,
    yAxisIndex: idx,
    data: t.map(function (x, i) { return [x, vals[i]]; }),
    showSymbol: false,
    symbol: 'none',
    silent: true,
    clip: true,
    lineStyle: { width: width, color: color },
    itemStyle: { color: color }
  };
}

var series = [];
listA.forEach(function (s) { series.push(makeSeries(tA, s[0], s[1], 0, 1.5)); });
listB.forEach(function (s) { series.push(makeSeries(tB, s[0], s[1], 1, 1.3)); });
listBRed.forEach(function (s) { series.push(makeSeries(s[1], s[0], RED, 1, 1.3)); });
listB2.forEach(function (s) { series.push(makeSeries(tB2, s[0], s[1], 1, 1.3)); });

// dashed frame of the zoomed region (1700-1752 s)
series[listA.length - 1].markArea = {
  silent: true,
  itemStyle: { color: 'rgba(0,0,0,0)', borderColor: '#111', borderWidth: 1.4, borderType: [5, 3] },
  data: [[{ coord: [1700, 0.152] }, { coord: [1752, 1.133] }]]
};

var axisLine = { show: true, lineStyle: { color: '#111', width: 2 } };
var axisTick = { show: true, length: 5, lineStyle: { color: '#111', width: 2 } };
var nameStyle = { fontFamily: FONT, fontWeight: 'bold', fontSize: 20, color: '#111' };
var plain = function (v) { return String(v); };
var oneDec = function (v) { return v.toFixed(1); };

var option = {
  animation: false,
  backgroundColor: '#fff',
  textStyle: { fontFamily: FONT },
  grid: [
    { left: 108, top: 44, width: 432, height: 339 },
    { left: 733, top: 47, width: 427, height: 341 }
  ],
  xAxis: [{
    gridIndex: 0, type: 'value', min: 1650, max: 2000, interval: 50,
    axisLine: axisLine, axisTick: axisTick, splitLine: { show: false },
    axisLabel: { fontFamily: FONT, fontWeight: 'bold', fontSize: 20, color: '#111', margin: 8, formatter: plain },
    name: 'Time,  s', nameLocation: 'middle', nameGap: 46, nameTextStyle: nameStyle
  }, {
    gridIndex: 1, type: 'value', min: 1700, max: 1750, interval: 25,
    axisLine: axisLine, axisTick: axisTick, splitLine: { show: false },
    axisLabel: { fontFamily: FONT, fontWeight: 'bold', fontSize: 21, color: '#111', margin: 10,
      customValues: xTicksB, formatter: plain },
    name: 'Time,  s', nameLocation: 'middle', nameGap: 50, nameTextStyle: nameStyle
  }],
  yAxis: [{
    gridIndex: 0, type: 'value', min: 0, max: 1.2, interval: 0.2,
    axisLine: axisLine, axisTick: axisTick, splitLine: { show: false },
    axisLabel: { fontFamily: FONT, fontWeight: 'bold', fontSize: 20, color: '#111', margin: 12, formatter: oneDec },
    name: 'Fura-2, 340/387', nameLocation: 'middle', nameGap: 72, nameRotate: 90,
    nameTextStyle: nameStyle
  }, {
    gridIndex: 1, type: 'value', min: 0.1, max: 1.1,
    axisLine: axisLine,
    axisTick: { show: true, length: 5, lineStyle: { color: '#111', width: 2 }, customValues: yTicksB },
    splitLine: { show: false },
    axisLabel: { fontFamily: FONT, fontWeight: 'bold', fontSize: 21, color: '#111', margin: 11,
      customValues: yTicksB, formatter: oneDec },
    name: 'Fura-2, 340/387', nameLocation: 'middle', nameGap: 72, nameRotate: 90,
    nameTextStyle: { fontFamily: FONT, fontWeight: 'bold', fontSize: 21, color: '#111' }
  }],
  // treatment bars and captions
  graphic: [
    { type: 'line', shape: { x1: 296, y1: 38, x2: 550, y2: 38 }, style: { stroke: '#111', lineWidth: 2.5 } },
    { type: 'text', x: 422, y: 24, style: { text: 'Bicucullin', font: 'bold 19px ' + FONT, fill: '#111', textAlign: 'center', textVerticalAlign: 'middle' } },
    { type: 'text', x: 180, y: 46, style: { text: '/', font: 'bold 22px ' + FONT, fill: '#111', textAlign: 'center', textVerticalAlign: 'middle' } },
    { type: 'line', shape: { x1: 179, y1: 365, x2: 245, y2: 365 }, style: { stroke: '#111', lineWidth: 2.5 } },
    { type: 'text', x: 214, y: 352, style: { text: 'DoA', font: 'bold 20px ' + FONT, fill: '#111', textAlign: 'center', textVerticalAlign: 'middle' } },
    { type: 'line', shape: { x1: 388, y1: 363, x2: 460, y2: 363 }, style: { stroke: '#111', lineWidth: 2.5 } },
    { type: 'text', x: 421, y: 350, style: { text: 'DoA', font: 'bold 20px ' + FONT, fill: '#111', textAlign: 'center', textVerticalAlign: 'middle' } },
    { type: 'line', shape: { x1: 788, y1: 40, x2: 1160, y2: 40 }, style: { stroke: '#111', lineWidth: 2.5 } },
    { type: 'text', x: 970, y: 23, style: { text: 'DoA', font: 'bold 20px ' + FONT, fill: '#111', textAlign: 'center', textVerticalAlign: 'middle' } },
    { type: 'text', x: 328, y: 498, style: { text: 'А', font: '19px Liberation Serif, serif', fill: '#111', textAlign: 'center', textVerticalAlign: 'middle' } },
    { type: 'text', x: 953, y: 498, style: { text: 'Ә', font: '19px Liberation Serif, serif', fill: '#111', textAlign: 'center', textVerticalAlign: 'middle' } }
  ],
  series: series
};

myChart.setOption(option);
</script>
</body>
</html>
